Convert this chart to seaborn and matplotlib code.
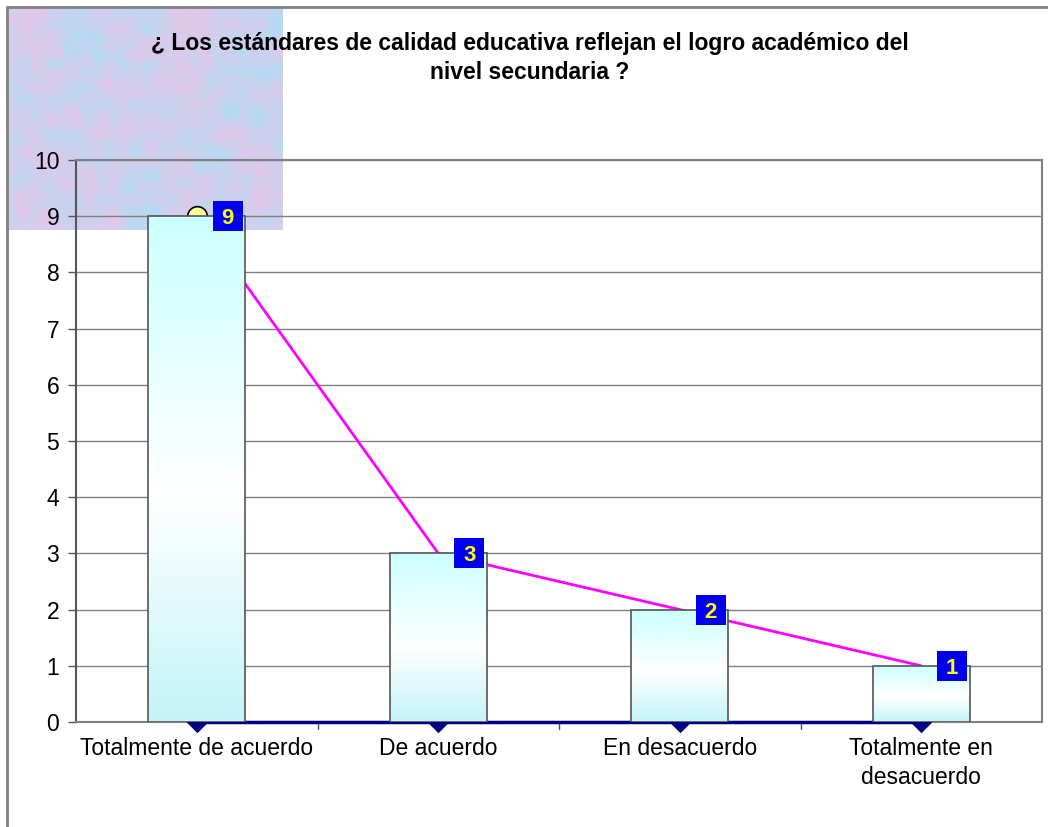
import numpy as np
import matplotlib
matplotlib.use("Agg")
import matplotlib.pyplot as plt
import seaborn as sns
from matplotlib.colors import LinearSegmentedColormap
from matplotlib.lines import Line2D

categories = ["Totalmente de acuerdo", "De acuerdo", "En desacuerdo", "Totalmente en\ndesacuerdo"]
values = [9, 3, 2, 1]
baseline = [0, 0, 0, 0]
yticks = [0, 1, 2, 3, 4, 5, 6, 7, 8, 9, 10]
title = "¿ Los estándares de calidad educativa reflejan el logro académico del\nnivel secundaria ?"

sns.set_theme(style="white")
plt.rcParams['font.family'] = ['Liberation Sans', 'DejaVu Sans']

W, H = 1048, 827
fig = plt.figure(figsize=(W / 100, H / 100), dpi=100)
fig.patch.set_facecolor("white")

# decorative textured square (deterministic interference pattern)
tex_ax = fig.add_axes([7 / W, 1 - 230 / H, 276 / W, 223 / H])
yy, xx = np.mgrid[0:223, 0:276].astype(float)
t = np.zeros_like(xx)
golden = 2.399963
for k in range(24):
    ang = k * golden
    freq = 0.04 + 0.045 * (k % 8)
    amp = 1.0 / (1 + 0.25 * (k % 8))
    t += amp * np.sin(freq * (xx * np.cos(ang) + yy * np.sin(ang)) + k * 1.7)
t = (t - t.min()) / (t.max() - t.min())
t = np.clip((t - 0.5) * 1.6 + 0.5, 0, 1)
blue = np.array([182, 218, 242]) / 255
pink = np.array([224, 200, 234]) / 255
img = blue[None, None, :] * (1 - t[..., None]) + pink[None, None, :] * t[..., None]
tex_ax.imshow(img, aspect="auto", interpolation="bilinear")
tex_ax.set_axis_off()

# outer frame lines
fig.add_artist(Line2D([7 / W, 7 / W], [0, 1 - 7 / H], transform=fig.transFigure, color="#808080", lw=2))
fig.add_artist(Line2D([7 / W, 1], [1 - 7 / H, 1 - 7 / H], transform=fig.transFigure, color="#808080", lw=2))

ax = fig.add_axes([76 / W, 1 - 722 / H, (1042 - 76) / W, (722 - 160) / H])
ax.set_facecolor("none")

pos = np.arange(len(categories))

sns.barplot(x=pos, y=values, ax=ax, width=0.4, color="#ccffff", edgecolor="#555555",
            linewidth=1.2, zorder=3, native_scale=False)

# gradient fill inside bars
cmap = LinearSegmentedColormap.from_list("g", [(0, "#c4f4f8"), (0.45, "#ffffff"), (1, "#ccffff")])
grad = np.linspace(0, 1, 256).reshape(-1, 1)
for p in list(ax.patches):
    x0, y0 = p.get_x(), p.get_y()
    w, h = p.get_width(), p.get_height()
    im = ax.imshow(grad, extent=[x0, x0 + w, y0, y0 + h], origin="lower", cmap=cmap,
                   aspect="auto", zorder=3, interpolation="bilinear")
    im.set_clip_path(p)
    p.set_facecolor("none")
    p.set_zorder(4)

# magenta line behind the bars
sns.lineplot(x=pos, y=values, ax=ax, color="#ff00ff", lw=2, zorder=2, sort=False)
ax.scatter([pos[0]], [values[0]], s=200, color="#ffff99", edgecolor="black", linewidth=1.2, zorder=2.5)

# navy zero series with diamond markers
sns.lineplot(x=pos, y=baseline, ax=ax, color="#000080", lw=2.5, zorder=2.8, sort=False,
             marker="D", markersize=10, markeredgecolor="#000080", clip_on=False)

# data labels (blue square boxes with yellow digits)
ax.scatter(pos + 0.128, values, marker="s", s=470, color="#0000ee", linewidths=0, zorder=6)
for xi, v in zip(pos, values):
    ax.text(xi + 0.128, v, str(v), ha="center", va="center_baseline", color="#ffff00",
            fontsize=16, fontweight="bold", zorder=7)

ax.set_xlim(-0.5, 3.5)
ax.set_ylim(0, 10)
ax.set_yticks(yticks)
ax.set_yticklabels([str(v) for v in yticks])
ax.set_xticks(pos)
ax.set_xticklabels(categories, fontsize=16.5, linespacing=1.3)
ax.tick_params(axis="y", labelsize=16.5, length=6, width=1, color="#555555", direction="out",
               pad=6, left=True, labelcolor="black")
ax.tick_params(axis="x", length=0, pad=11, labelcolor="black")
for b in [0.5, 1.5, 2.5]:
    ax.plot([b, b], [0, -0.12], color="#555555", lw=1, clip_on=False, zorder=1)
ax.grid(axis="y", color="#808080", lw=1, zorder=0.5)
ax.set_axisbelow(True)
for s in ["top", "right", "bottom"]:
    ax.spines[s].set_visible(True)
    ax.spines[s].set_color("#808080")
    ax.spines[s].set_linewidth(1.5)
ax.spines["left"].set_color("#555555")
ax.spines["left"].set_linewidth(1.5)
ax.set_xlabel("")
ax.set_ylabel("")

fig.text(530 / W, 1 - 58 / H, title, ha="center", va="center", fontsize=16.5,
         fontweight="bold", linespacing=1.3, color="black")

fig.savefig("out.png", dpi=100)
